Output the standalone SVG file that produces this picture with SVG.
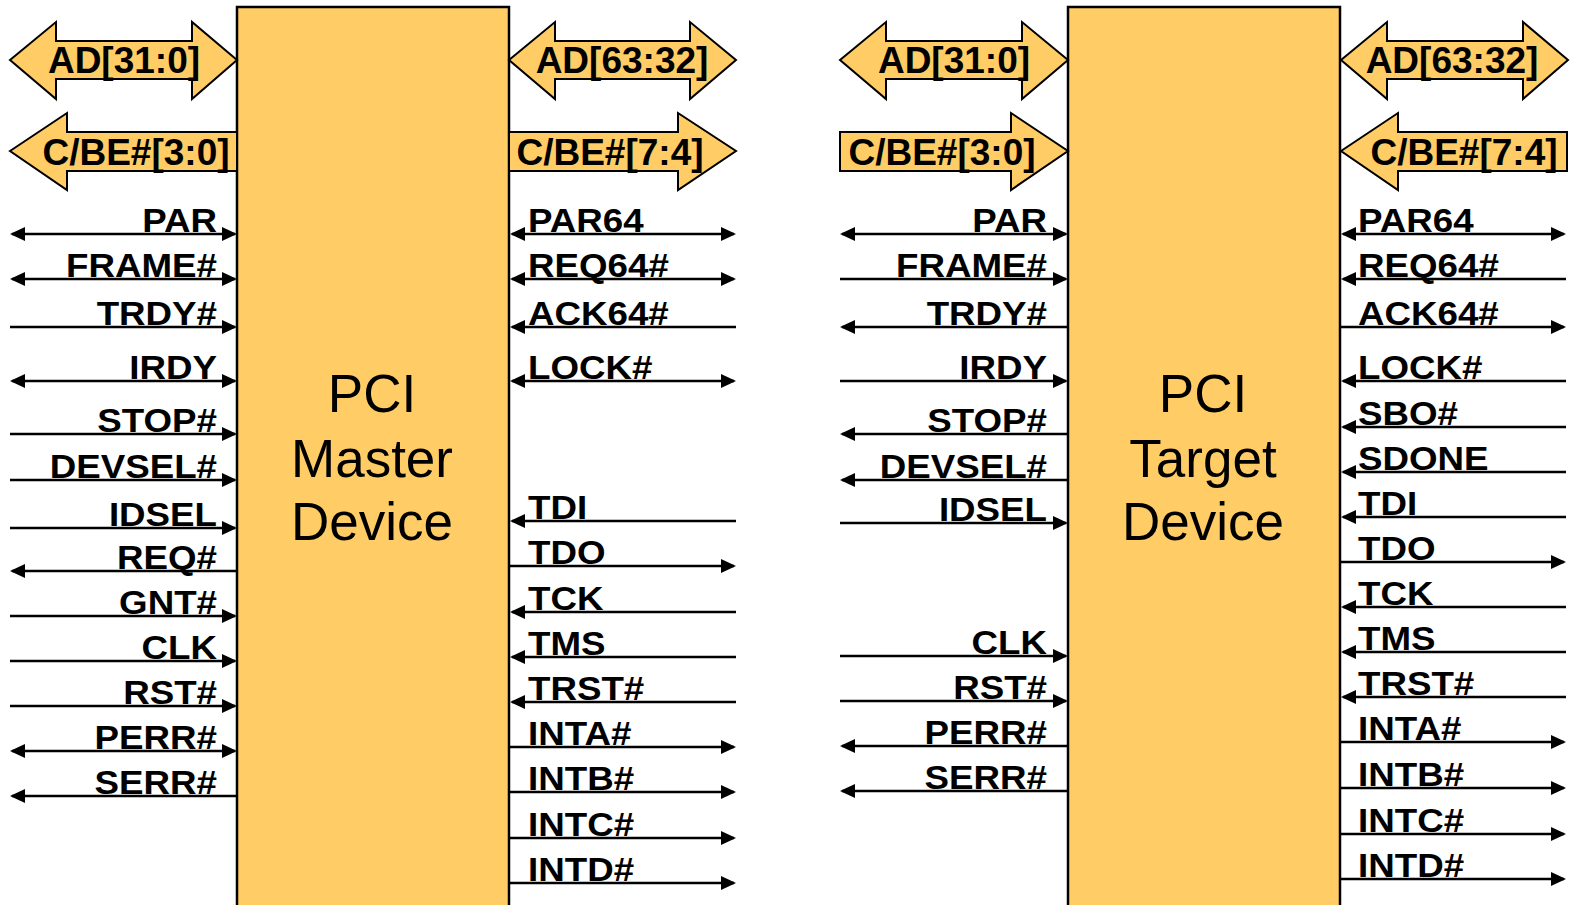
<svg xmlns="http://www.w3.org/2000/svg" width="1571" height="905" viewBox="0 0 1571 905">
<style>
.box{fill:#FFCC66;stroke:#000;stroke-width:2.5}
.bus{fill:#FFCC66;stroke:#000;stroke-width:2;stroke-linejoin:miter}
.bt{font-family:"Liberation Sans",Arial,sans-serif;font-weight:bold;font-size:37px;fill:#000;text-anchor:middle}
.big{font-family:"Liberation Sans",Arial,sans-serif;font-size:53px;fill:#000;text-anchor:middle}
.s{font-family:"Liberation Sans",Arial,sans-serif;font-weight:bold;font-size:34px;fill:#000}
.e{text-anchor:end}
.w{stroke:#000;stroke-width:2.5;fill:none}
.in{marker-end:url(#ah)}
.out{marker-start:url(#ah)}
.both{marker-start:url(#ah);marker-end:url(#ah)}
</style>
<defs>
<marker id="ah" markerUnits="userSpaceOnUse" markerWidth="16" markerHeight="15" refX="13" refY="7" orient="auto-start-reverse" viewBox="0 0 16 15">
<path d="M0,0 L15,7 L0,14 z" fill="#000"/>
</marker>
</defs>

<g id="master">
<rect class="box" x="237" y="7" width="272" height="910"/>
<text class="big" x="372" y="412">PCI</text>
<text class="big" x="372" y="477">Master</text>
<text class="big" x="372" y="540">Device</text>
</g>
<g id="target">
<rect class="box" x="1068" y="7" width="272" height="910"/>
<text class="big" x="1203" y="412">PCI</text>
<text class="big" x="1203" y="477">Target</text>
<text class="big" x="1203" y="540">Device</text>
</g>

<g id="buses">
<polygon class="bus" points="10,60 56,22 56,41 192,41 192,22 237,60 192,99 192,79 56,79 56,99"/>
<text class="bt" x="124" y="73">AD[31:0]</text>
<polygon class="bus" points="10,151 67,113 67,132 237,132 237,171 67,171 67,190"/>
<text class="bt" x="136" y="165">C/BE#[3:0]</text>
<polygon class="bus" points="509,60 555,22 555,41 690,41 690,22 736,60 690,99 690,79 555,79 555,99"/>
<text class="bt" x="622" y="73">AD[63:32]</text>
<polygon class="bus" points="509,132 678,132 678,113 736,151 678,190 678,171 509,171"/>
<text class="bt" x="610" y="165">C/BE#[7:4]</text>
<polygon class="bus" points="840,60 886,22 886,41 1022,41 1022,22 1068,60 1022,99 1022,79 886,79 886,99"/>
<text class="bt" x="954" y="73">AD[31:0]</text>
<polygon class="bus" points="840,132 1011,132 1011,113 1068,151 1011,190 1011,171 840,171"/>
<text class="bt" x="942" y="165">C/BE#[3:0]</text>
<polygon class="bus" points="1341,60 1387,22 1387,41 1523,41 1523,22 1568,60 1523,99 1523,79 1387,79 1387,99"/>
<text class="bt" x="1452" y="73">AD[63:32]</text>
<polygon class="bus" points="1341,151 1398,113 1398,132 1567,132 1567,171 1398,171 1398,190"/>
<text class="bt" x="1464" y="165">C/BE#[7:4]</text>
</g>

<g id="connectors">
<!-- master left -->
<path class="w both" d="M12,234H235"/>
<path class="w both" d="M12,279H235"/>
<path class="w in" d="M10,327H235"/>
<path class="w both" d="M12,381H235"/>
<path class="w in" d="M10,434H235"/>
<path class="w in" d="M10,480H235"/>
<path class="w in" d="M10,528H235"/>
<path class="w out" d="M12,571H237"/>
<path class="w in" d="M10,616H235"/>
<path class="w in" d="M10,661H235"/>
<path class="w in" d="M10,706H235"/>
<path class="w both" d="M12,751H235"/>
<path class="w out" d="M12,796H237"/>
<!-- master right -->
<path class="w both" d="M512,234H734"/>
<path class="w both" d="M512,279H734"/>
<path class="w out" d="M512,327H736"/>
<path class="w both" d="M512,381H734"/>
<path class="w out" d="M512,521H736"/>
<path class="w in" d="M509,566H734"/>
<path class="w out" d="M512,612H736"/>
<path class="w out" d="M512,657H736"/>
<path class="w out" d="M512,702H736"/>
<path class="w in" d="M509,747H734"/>
<path class="w in" d="M509,792H734"/>
<path class="w in" d="M509,838H734"/>
<path class="w in" d="M509,883H734"/>
<!-- target left -->
<path class="w both" d="M842,234H1066"/>
<path class="w in" d="M840,279H1066"/>
<path class="w out" d="M842,327H1068"/>
<path class="w in" d="M840,381H1066"/>
<path class="w out" d="M842,434H1068"/>
<path class="w out" d="M842,480H1068"/>
<path class="w in" d="M840,523H1066"/>
<path class="w in" d="M840,656H1066"/>
<path class="w in" d="M840,701H1066"/>
<path class="w out" d="M842,746H1068"/>
<path class="w out" d="M842,791H1068"/>
<!-- target right -->
<path class="w both" d="M1343,234H1564"/>
<path class="w out" d="M1343,279H1566"/>
<path class="w in" d="M1340,327H1564"/>
<path class="w out" d="M1343,381H1566"/>
<path class="w out" d="M1343,427H1566"/>
<path class="w out" d="M1343,472H1566"/>
<path class="w out" d="M1343,517H1566"/>
<path class="w in" d="M1340,562H1564"/>
<path class="w out" d="M1343,607H1566"/>
<path class="w out" d="M1343,652H1566"/>
<path class="w out" d="M1343,697H1566"/>
<path class="w in" d="M1340,742H1564"/>
<path class="w in" d="M1340,788H1564"/>
<path class="w in" d="M1340,834H1564"/>
<path class="w in" d="M1340,879H1564"/>
</g>

<g id="labels">
<text class="s e" transform="translate(217,232) scale(1.08,1)">PAR</text>
<text class="s e" transform="translate(217,277) scale(1.08,1)">FRAME#</text>
<text class="s e" transform="translate(217,325) scale(1.08,1)">TRDY#</text>
<text class="s e" transform="translate(217,379) scale(1.08,1)">IRDY</text>
<text class="s e" transform="translate(217,432) scale(1.08,1)">STOP#</text>
<text class="s e" transform="translate(217,478) scale(1.08,1)">DEVSEL#</text>
<text class="s e" transform="translate(217,526) scale(1.08,1)">IDSEL</text>
<text class="s e" transform="translate(217,569) scale(1.08,1)">REQ#</text>
<text class="s e" transform="translate(217,614) scale(1.08,1)">GNT#</text>
<text class="s e" transform="translate(217,659) scale(1.08,1)">CLK</text>
<text class="s e" transform="translate(217,704) scale(1.08,1)">RST#</text>
<text class="s e" transform="translate(217,749) scale(1.08,1)">PERR#</text>
<text class="s e" transform="translate(217,794) scale(1.08,1)">SERR#</text>

<text class="s" transform="translate(528,232) scale(1.08,1)">PAR64</text>
<text class="s" transform="translate(528,277) scale(1.08,1)">REQ64#</text>
<text class="s" transform="translate(528,325) scale(1.08,1)">ACK64#</text>
<text class="s" transform="translate(528,379) scale(1.08,1)">LOCK#</text>
<text class="s" transform="translate(528,519) scale(1.08,1)">TDI</text>
<text class="s" transform="translate(528,564) scale(1.08,1)">TDO</text>
<text class="s" transform="translate(528,610) scale(1.08,1)">TCK</text>
<text class="s" transform="translate(528,655) scale(1.08,1)">TMS</text>
<text class="s" transform="translate(528,700) scale(1.08,1)">TRST#</text>
<text class="s" transform="translate(528,745) scale(1.08,1)">INTA#</text>
<text class="s" transform="translate(528,790) scale(1.08,1)">INTB#</text>
<text class="s" transform="translate(528,836) scale(1.08,1)">INTC#</text>
<text class="s" transform="translate(528,881) scale(1.08,1)">INTD#</text>

<text class="s e" transform="translate(1047,232) scale(1.08,1)">PAR</text>
<text class="s e" transform="translate(1047,277) scale(1.08,1)">FRAME#</text>
<text class="s e" transform="translate(1047,325) scale(1.08,1)">TRDY#</text>
<text class="s e" transform="translate(1047,379) scale(1.08,1)">IRDY</text>
<text class="s e" transform="translate(1047,432) scale(1.08,1)">STOP#</text>
<text class="s e" transform="translate(1047,478) scale(1.08,1)">DEVSEL#</text>
<text class="s e" transform="translate(1047,521) scale(1.08,1)">IDSEL</text>
<text class="s e" transform="translate(1047,654) scale(1.08,1)">CLK</text>
<text class="s e" transform="translate(1047,699) scale(1.08,1)">RST#</text>
<text class="s e" transform="translate(1047,744) scale(1.08,1)">PERR#</text>
<text class="s e" transform="translate(1047,789) scale(1.08,1)">SERR#</text>

<text class="s" transform="translate(1358,232) scale(1.08,1)">PAR64</text>
<text class="s" transform="translate(1358,277) scale(1.08,1)">REQ64#</text>
<text class="s" transform="translate(1358,325) scale(1.08,1)">ACK64#</text>
<text class="s" transform="translate(1358,379) scale(1.08,1)">LOCK#</text>
<text class="s" transform="translate(1358,425) scale(1.08,1)">SBO#</text>
<text class="s" transform="translate(1358,470) scale(1.08,1)">SDONE</text>
<text class="s" transform="translate(1358,515) scale(1.08,1)">TDI</text>
<text class="s" transform="translate(1358,560) scale(1.08,1)">TDO</text>
<text class="s" transform="translate(1358,605) scale(1.08,1)">TCK</text>
<text class="s" transform="translate(1358,650) scale(1.08,1)">TMS</text>
<text class="s" transform="translate(1358,695) scale(1.08,1)">TRST#</text>
<text class="s" transform="translate(1358,740) scale(1.08,1)">INTA#</text>
<text class="s" transform="translate(1358,786) scale(1.08,1)">INTB#</text>
<text class="s" transform="translate(1358,832) scale(1.08,1)">INTC#</text>
<text class="s" transform="translate(1358,877) scale(1.08,1)">INTD#</text>
</g>
</svg>
